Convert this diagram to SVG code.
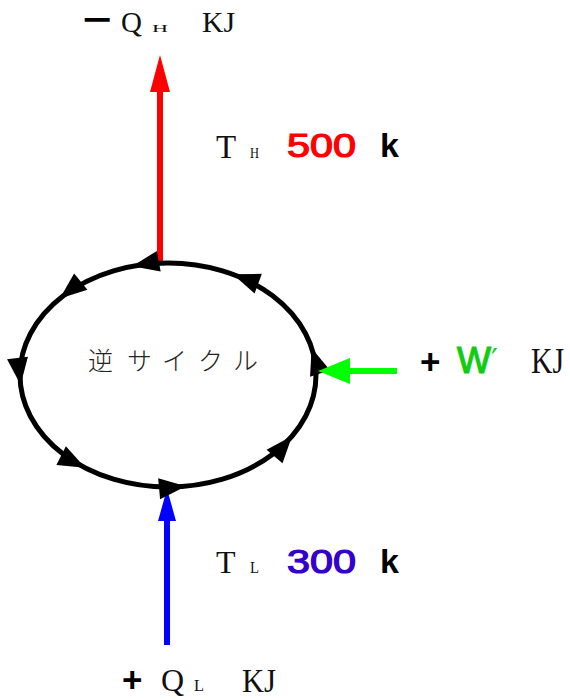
<svg xmlns="http://www.w3.org/2000/svg" width="570" height="700" viewBox="0 0 570 700">
<style>
.serif{font-family:"Liberation Serif","Times New Roman",serif;fill:#111}
.sans{font-family:"Liberation Sans",Arial,sans-serif;font-weight:bold}
.num{font-family:"Liberation Sans",Arial,sans-serif;stroke-width:1.2}
.jp{font-family:"Noto Sans CJK JP","Noto Sans",sans-serif;font-size:25px;fill:#222;font-weight:300}
.cyc{fill:none;stroke:#000;stroke-width:5}
.tri{fill:#000}
</style>
<defs>
<path id="ah" d="M0,0 L-27,-10.5 L-27,10.5 Z"/>
</defs>
<g id="connectors">
<g id="heat-out">
<line x1="160" y1="264" x2="160" y2="88" stroke="#ff0000" stroke-width="6"/>
<polygon points="160,55 150,92 170,92" fill="#ff0000"/>
</g>
<g id="heat-in">
<line x1="167" y1="645" x2="167" y2="515" stroke="#0000ff" stroke-width="6"/>
<polygon points="167,489 158,521 176,521" fill="#0000ff"/>
</g>
</g>
<g id="cycle">
<ellipse class="cyc" cx="168" cy="375" rx="148" ry="112"/>
<use href="#ah" class="tri" transform="translate(132.2,266.3) rotate(169.3)"/>
<use href="#ah" class="tri" transform="translate(232.9,274.3) rotate(-159.7)"/>
<use href="#ah" class="tri" transform="translate(59.8,298.6) rotate(140.9)"/>
<use href="#ah" class="tri" transform="translate(20.6,384.8) rotate(83.4)"/>
<use href="#ah" class="tri" transform="translate(85.2,467.8) rotate(27)"/>
<use href="#ah" class="tri" transform="translate(186,486.2) rotate(-5.3)"/>
<use href="#ah" class="tri" transform="translate(292.1,436) rotate(-49.4)"/>
<use href="#ah" class="tri" transform="translate(311.6,347.9) rotate(-108.2)"/>
<text class="jp" x="88 127 162 198 233" y="370">逆サイクル</text>
</g>
<g id="work-in">
<line x1="397" y1="371" x2="345" y2="371" stroke="#00ff00" stroke-width="6"/>
<polygon points="318,371 350,358 350,384" fill="#00ff00"/>
</g>
<g id="label-qh">
<text class="sans" x="83" y="31" font-size="34" textLength="29" lengthAdjust="spacingAndGlyphs">−</text>
<text class="serif" x="121" y="32" font-size="29">Q</text>
<text class="serif" x="152" y="32" font-size="11" textLength="16" lengthAdjust="spacingAndGlyphs">H</text>
<text class="serif" x="202" y="32" font-size="29" textLength="33" lengthAdjust="spacingAndGlyphs">KJ</text>
</g>
<g id="label-th">
<text class="serif" x="216" y="158" font-size="33">T</text>
<text class="serif" x="250" y="158" font-size="14" textLength="9" lengthAdjust="spacingAndGlyphs">H</text>
<text class="num" x="287" y="157" font-size="33" fill="#ff0000" stroke="#ff0000" textLength="69" lengthAdjust="spacingAndGlyphs">500</text>
<text class="sans" x="380" y="157" font-size="34" fill="#000">k</text>
</g>
<g id="label-w">
<text class="sans" x="420" y="374" font-size="35" fill="#000">+</text>
<text class="num" x="457" y="373" font-size="36" fill="#11cc11" stroke="#11cc11">W</text>
<text x="491" y="370" font-size="30" fill="#11cc11" font-family="DejaVu Sans,sans-serif">′</text>
<text class="serif" x="531" y="373" font-size="36" textLength="33" lengthAdjust="spacingAndGlyphs">KJ</text>
</g>
<g id="label-tl">
<text class="serif" x="216" y="573" font-size="32">T</text>
<text class="serif" x="250" y="573" font-size="16" textLength="9" lengthAdjust="spacingAndGlyphs">L</text>
<text class="num" x="287" y="573" font-size="33" fill="#3300cc" stroke="#3300cc" textLength="69" lengthAdjust="spacingAndGlyphs">300</text>
<text class="sans" x="380" y="573" font-size="34" fill="#000">k</text>
</g>
<g id="label-ql">
<text class="sans" x="122" y="692" font-size="35" fill="#000">+</text>
<text class="serif" x="161" y="691" font-size="32">Q</text>
<text class="serif" x="194" y="691" font-size="17" textLength="10" lengthAdjust="spacingAndGlyphs">L</text>
<text class="serif" x="242" y="692" font-size="34" textLength="34" lengthAdjust="spacingAndGlyphs">KJ</text>
</g>
</svg>
